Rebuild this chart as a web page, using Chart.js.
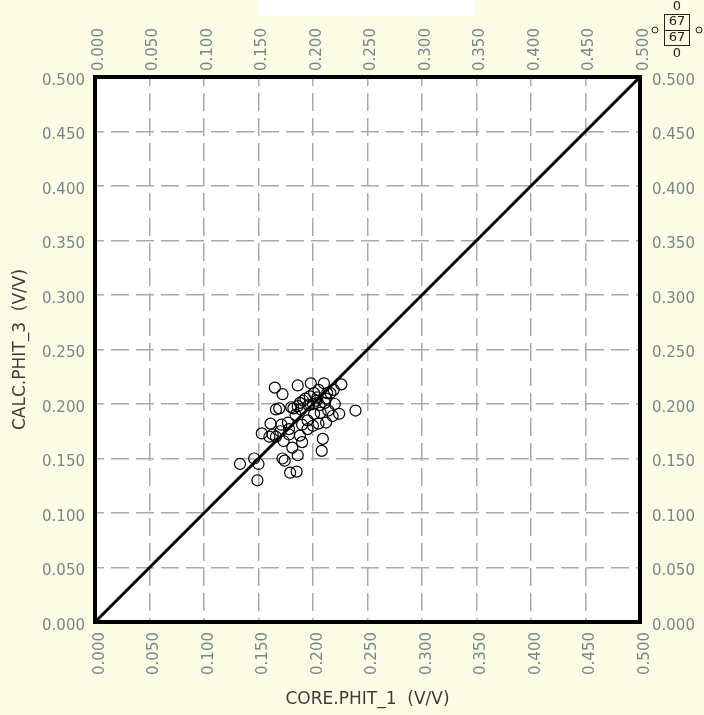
<!DOCTYPE html>
<html>
<head>
<meta charset="utf-8">
<script src="https://cdn.jsdelivr.net/npm/chart.js@4.4.1/dist/chart.umd.min.js"></script>
<style>
  body { margin: 0; background: #fdfde6; }
  canvas { display: block; }
</style>
</head>
<body>
<canvas id="myChart" width="704" height="715"></canvas>
<script>
// core vs calc porosity (V/V)
const corePhit = [
  0.133, 0.146, 0.150, 0.149, 0.153, 0.161, 0.163, 0.166, 0.166, 0.169,
  0.165, 0.172, 0.171, 0.173, 0.172, 0.174, 0.177, 0.178, 0.179, 0.180,
  0.182, 0.181, 0.185, 0.186, 0.186, 0.188, 0.190, 0.188, 0.189, 0.190,
  0.193, 0.195, 0.197, 0.198, 0.200, 0.201, 0.200, 0.203, 0.205, 0.206,
  0.205, 0.208, 0.209, 0.210, 0.211, 0.212, 0.214, 0.216, 0.218, 0.220,
  0.226, 0.239, 0.212, 0.213, 0.196, 0.191, 0.184, 0.178, 0.170, 0.201,
  0.207, 0.219, 0.224, 0.160, 0.195, 0.186, 0.204
]
const calcPhit = [
  0.145, 0.150, 0.145, 0.130, 0.173, 0.182, 0.172, 0.170, 0.195, 0.196,
  0.215, 0.209, 0.181, 0.166, 0.150, 0.148, 0.183, 0.172, 0.137, 0.197,
  0.196, 0.160, 0.138, 0.153, 0.217, 0.201, 0.181, 0.171, 0.195, 0.165,
  0.205, 0.185, 0.207, 0.219, 0.200, 0.191, 0.180, 0.203, 0.213, 0.199,
  0.182, 0.157, 0.168, 0.219, 0.201, 0.205, 0.194, 0.210, 0.189, 0.200,
  0.218, 0.194, 0.183, 0.210, 0.199, 0.203, 0.190, 0.177, 0.175, 0.210,
  0.192, 0.213, 0.191, 0.170, 0.177, 0.198, 0.206
]
const axisMin = 0
const axisMax = 0.5
const axisStep = 0.05
const unityLine = [0, 0.5] // 1:1 line ends
const countsBox = { top: '0', left: '0', right: '0', bottom: '0', inside: '67', total: '67' }

const tickColor = '#76868f'
const tickFont = { family: 'DejaVu Sans', size: 15 }
const titleFont = { family: 'DejaVu Sans', size: 17 }

// background + white plot area + blank header strip
const backdrop = {
  id: 'backdrop',
  beforeDraw(chart) {
    const { ctx, chartArea: a } = chart
    ctx.save()
    ctx.fillStyle = '#fdfde6'
    ctx.fillRect(0, 0, chart.width, chart.height)
    ctx.fillStyle = '#ffffff'
    ctx.fillRect(a.left, a.top, a.right - a.left, a.bottom - a.top)
    ctx.fillRect(258, 0, 217, 16)
    ctx.restore()
  }
}

// thick frame and the little count box up in the corner
const frame = {
  id: 'frame',
  afterDraw(chart) {
    const { ctx, chartArea: a } = chart
    ctx.save()
    ctx.strokeStyle = '#000'
    ctx.lineWidth = 4
    ctx.strokeRect(a.left, a.top, a.right - a.left, a.bottom - a.top)

    ctx.font = '13px "DejaVu Sans"'
    ctx.fillStyle = '#222'
    ctx.textAlign = 'center'
    ctx.textBaseline = 'middle'
    ctx.fillText(countsBox.top, 677, 7)
    ctx.fillText(countsBox.inside, 677, 22)
    ctx.fillText(countsBox.total, 677, 38)
    ctx.fillText(countsBox.bottom, 677, 54)
    ctx.lineWidth = 1
    ctx.strokeStyle = '#222'
    ctx.strokeRect(664.5, 14.5, 25, 31)
    ctx.beginPath()
    ctx.moveTo(664, 30.5); ctx.lineTo(690, 30.5)
    ctx.stroke()
    ctx.beginPath(); ctx.arc(655, 30, 3, 0, Math.PI * 2); ctx.stroke()
    ctx.beginPath(); ctx.arc(699, 30, 3, 0, Math.PI * 2); ctx.stroke()
    ctx.restore()
  }
}

const fmt = v => Number(v).toFixed(3)

function axis(position, size, titleText, extra) {
  const horizontal = position === 'top' || position === 'bottom'
  const tickPad = { bottom: 10, top: 6, left: 10, right: 12 }[position]
  return Object.assign({
    type: 'linear',
    position,
    min: axisMin,
    max: axisMax,
    ticks: {
      stepSize: axisStep,
      color: tickColor,
      font: tickFont,
      callback: fmt,
      autoSkip: false,
      padding: tickPad,
      labelOffset: position === 'top' ? 22 : (position === 'bottom' ? 5 : 4),
      minRotation: horizontal ? 90 : 0,
      maxRotation: horizontal ? 90 : 0
    },
    grid: { display: false, drawTicks: false },
    border: { display: false },
    title: titleText
      ? { display: true, text: titleText, color: '#3c3c3c', font: titleFont,
          padding: horizontal ? { top: 0, bottom: 5 } : { top: 10, bottom: 0 } }
      : { display: false },
    afterFit(scale) {
      if (horizontal) scale.height = size
      else scale.width = size
    }
  }, extra)
}

const gridStyle = { display: true, drawTicks: false, color: '#a6abaf', lineWidth: 1.5 }
const gridDash = { display: false, dash: [18, 7], dashOffset: 9 }

const ctx = document.getElementById('myChart')

new Chart(ctx, {
  type: 'scatter',
  data: {
    datasets: [{
      label: 'points',
      data: corePhit.map((x, i) => ({ x, y: calcPhit[i] })),
      pointRadius: 5.5,
      pointBorderWidth: 1.2,
      pointBorderColor: '#000',
      pointBackgroundColor: 'rgba(0,0,0,0)',
      xAxisID: 'x',
      yAxisID: 'y'
    }, {
      type: 'line',
      label: '1:1',
      data: unityLine.map(v => ({ x: v, y: v })),
      borderColor: '#000',
      borderWidth: 3,
      pointRadius: 0,
      xAxisID: 'x',
      yAxisID: 'y'
    }]
  },
  options: {
    responsive: false,
    animation: false,
    layout: { padding: 0 },
    plugins: {
      legend: { display: false },
      tooltip: { enabled: false }
    },
    scales: {
      x: axis('bottom', 93, 'CORE.PHIT_1  (V/V)', { grid: gridStyle, border: gridDash }),
      x2: axis('top', 77, null),
      y: axis('left', 95, 'CALC.PHIT_3  (V/V)', { grid: gridStyle, border: gridDash }),
      y2: axis('right', 64, null)
    }
  },
  plugins: [backdrop, frame]
})
</script>
</body>
</html>
